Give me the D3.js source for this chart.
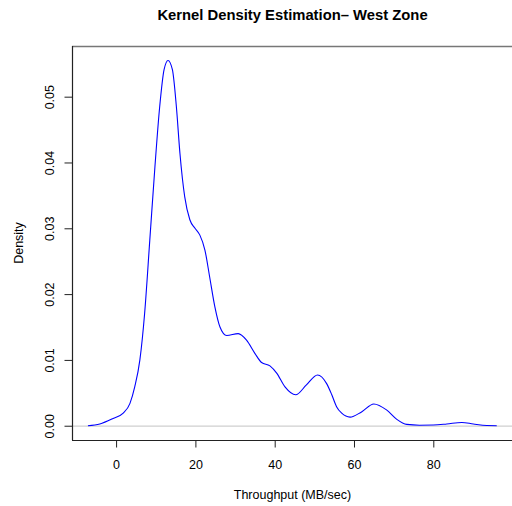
<!DOCTYPE html>
<html>
<head>
<meta charset="utf-8">
<script src="https://cdn.jsdelivr.net/npm/d3@7"></script>
<style>
  body { margin: 0; background: #fff; }
  text { font-family: "Liberation Sans", Arial, Helvetica, sans-serif; fill: #000; }
</style>
</head>
<body>
<div id="chart"></div>
<script>
// kernel density estimate
const throughput = [-7.1, -4.1, -0.75, 1.8, 3.5, 4.7, 6.0, 7.2, 8.5, 9.8, 11.0, 12.1, 13.1, 14.2, 15.2,
  16.1, 17.3, 18.6, 19.9, 21.1, 22.4, 23.6, 24.9, 26.2, 27.9, 30.8, 32.9, 35.0, 36.7, 38.8, 40.5, 42.6,
  45.3, 48.0, 50.8, 53.1, 54.4, 55.6, 56.9, 59.0, 61.9, 65.0, 68.2, 70.8, 73.3, 76.5, 80.0, 83.4, 87.2, 90.1, 93.5, 96.0];
const density = [0, 0.00026, 0.0011, 0.0019, 0.0034, 0.0059, 0.0100, 0.0171, 0.0282, 0.0394, 0.0485, 0.0541, 0.0555, 0.0541, 0.0485,
  0.0414, 0.0348, 0.0313, 0.0300, 0.0290, 0.0267, 0.0226, 0.0181, 0.0150, 0.0137, 0.0140, 0.0130, 0.0110, 0.0096, 0.0091, 0.0080, 0.0059,
  0.0047, 0.0062, 0.0077, 0.0064, 0.0047, 0.0029, 0.0019, 0.0013, 0.0021, 0.0033, 0.0024, 0.00097, 0.0002, 0.00008, 0.0001, 0.00026, 0.0005, 0.00026, 0.00003, 0];

const xTicks = [0, 20, 40, 60, 80];
const yTicks = [0, 0.01, 0.02, 0.03, 0.04, 0.05];

const width = 512;
const height = 506;
const plot = { left: 72, right: 513, top: 46, bottom: 440 };

const svg = d3.select("#chart")
    .append("svg")
    .attr("width", width)
    .attr("height", height);

const x = d3.scaleLinear()
    .domain([-11.12, 100.1])
    .range([plot.left, plot.right]);

const y = d3.scaleLinear()
    .domain([-0.00217, 0.0577])
    .range([plot.bottom, plot.top]);

// zero reference line
svg.append("line")
    .attr("x1", plot.left).attr("x2", plot.right)
    .attr("y1", y(0) + 0.5).attr("y2", y(0) + 0.5)
    .attr("stroke", "#cfcfcf")
    .attr("stroke-width", 1.2);

// density curve
const line = d3.line()
    .x((d, i) => x(throughput[i]))
    .y(d => y(d))
    .curve(d3.curveMonotoneX);

svg.append("path")
    .attr("d", line(density))
    .attr("fill", "none")
    .attr("stroke", "#0000ff")
    .attr("stroke-width", 1.1);

// box
svg.append("line")
    .attr("x1", plot.left).attr("x2", plot.right)
    .attr("y1", plot.top + 0.5).attr("y2", plot.top + 0.5)
    .attr("stroke", "#777").attr("stroke-width", 1.4);
svg.append("line")
    .attr("x1", plot.left + 0.5).attr("x2", plot.left + 0.5)
    .attr("y1", plot.top).attr("y2", plot.bottom)
    .attr("stroke", "#222").attr("stroke-width", 1.2);
svg.append("line")
    .attr("x1", plot.left).attr("x2", plot.right)
    .attr("y1", plot.bottom + 0.5).attr("y2", plot.bottom + 0.5)
    .attr("stroke", "#222").attr("stroke-width", 1.2);

// x axis
const xAxis = d3.axisBottom(x)
    .tickValues(xTicks)
    .tickSize(7)
    .tickPadding(13)
    .tickFormat(d3.format("d"));

const gx = svg.append("g")
    .attr("transform", `translate(0,${plot.bottom + 0.5})`)
    .call(xAxis);
gx.select(".domain").remove();
gx.selectAll("line").attr("stroke", "#222");
gx.selectAll("text")
    .style("font-size", "12.5px")
    .style("font-family", "Liberation Sans, Arial, sans-serif")
    .attr("fill", "#000");

// y axis
const yAxis = d3.axisLeft(y)
    .tickValues(yTicks)
    .tickSize(8)
    .tickFormat(d3.format(".2f"));

const gy = svg.append("g")
    .attr("transform", `translate(${plot.left + 0.5},0)`)
    .call(yAxis);
gy.select(".domain").remove();
gy.selectAll("line").attr("stroke", "#222");
gy.selectAll("text")
    .attr("x", 0)
    .attr("dy", 0)
    .attr("text-anchor", "middle")
    .attr("transform", "translate(-19,0) rotate(-90)")
    .style("font-size", "12.5px")
    .style("font-family", "Liberation Sans, Arial, sans-serif")
    .attr("fill", "#000");

// labels
svg.append("text")
    .attr("x", (plot.left + plot.right) / 2)
    .attr("y", 20)
    .attr("text-anchor", "middle")
    .style("font-size", "14.8px")
    .style("font-weight", "bold")
    .text("Kernel Density Estimation\u2013 West Zone");

svg.append("text")
    .attr("x", (plot.left + plot.right) / 2)
    .attr("y", 499)
    .attr("text-anchor", "middle")
    .style("font-size", "12.5px")
    .text("Throughput (MB/sec)");

svg.append("text")
    .attr("transform", `translate(22.5,${(plot.top + plot.bottom) / 2}) rotate(-90)`)
    .attr("text-anchor", "middle")
    .style("font-size", "12.5px")
    .text("Density");
</script>
</body>
</html>
